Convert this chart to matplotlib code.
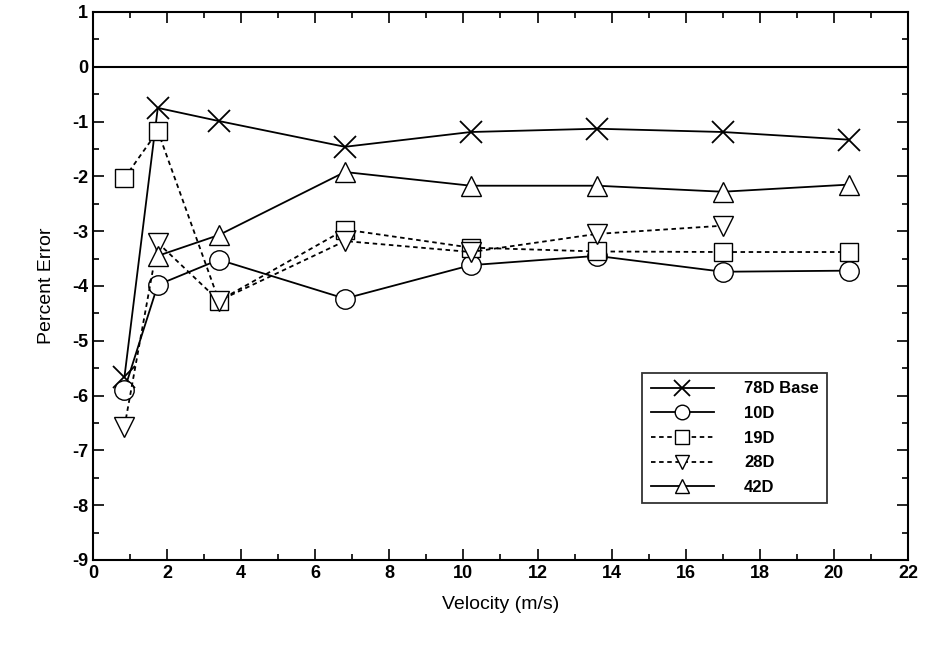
import numpy as np
import matplotlib.pyplot as plt
from matplotlib.ticker import MultipleLocator

plt.rcParams['font.family'] = ['Liberation Sans', 'DejaVu Sans']
plt.rcParams['axes.unicode_minus'] = False

# velocities (m/s)
vel = [0.85, 1.75, 3.4, 6.8, 10.2, 13.6, 17.0, 20.4]
err_78d = [-5.66, -0.75, -0.99, -1.46, -1.19, -1.13, -1.19, -1.33]
err_10d = [-5.89, -3.98, -3.52, -4.23, -3.62, -3.45, -3.74, -3.72]
err_19d = [-2.03, -1.17, -4.27, -2.97, -3.30, -3.37, -3.38, -3.38]
vel_28d = [0.85, 1.75, 3.4, 6.8, 10.2, 13.6, 17.0]
err_28d = [-6.57, -3.21, -4.27, -3.18, -3.38, -3.05, -2.90]
vel_42d = [1.75, 3.4, 6.8, 10.2, 13.6, 17.0, 20.4]
err_42d = [-3.45, -3.07, -1.92, -2.17, -2.17, -2.28, -2.15]

fig = plt.figure(figsize=(9.25, 6.45), dpi=100)
ax = fig.add_axes([0.1005, 0.1318, 0.8811, 0.8496])

ax.axhline(0, color='black', lw=1.5)

ms = 14
dash = (0, (2.5, 2))
ax.plot(vel, err_78d, '-', color='black', lw=1.3, marker='x', ms=ms + 2, mew=1.3,
        label='78D Base')
ax.plot(vel, err_10d, '-', color='black', lw=1.3, marker='o', ms=ms, mfc='white', mew=1.0,
        label='10D')
ax.plot(vel, err_19d, linestyle=dash, color='black', lw=1.3, marker='s', ms=ms - 1, mfc='white',
        mew=1.0, label='19D')
ax.plot(vel_28d, err_28d, linestyle=dash, color='black', lw=1.3, marker='v', ms=ms, mfc='white',
        mew=1.0, label='28D')
ax.plot(vel_42d, err_42d, '-', color='black', lw=1.3, marker='^', ms=ms, mfc='white', mew=1.0,
        label='42D')

ax.set_xlim(0, 22)
ax.set_ylim(-9, 1)
ax.xaxis.set_major_locator(MultipleLocator(2))
ax.xaxis.set_minor_locator(MultipleLocator(1))
ax.yaxis.set_major_locator(MultipleLocator(1))
ax.yaxis.set_minor_locator(MultipleLocator(0.5))
ax.tick_params(which='both', direction='in', top=True, right=True, width=1.2, labelsize=13)
ax.tick_params(which='major', length=8)
ax.tick_params(which='minor', length=4)
for t in ax.get_xticklabels() + ax.get_yticklabels():
    t.set_fontweight('bold')
for s in ax.spines.values():
    s.set_linewidth(1.5)

ax.set_xlabel('Velocity (m/s)', fontsize=14, labelpad=10)
ax.set_ylabel('Percent Error', fontsize=14, labelpad=12)

leg = ax.legend(loc='upper left', bbox_to_anchor=(0.674, 0.341), fontsize=12,
                frameon=True, fancybox=False, edgecolor='black', handlelength=3.8,
                markerscale=0.75, borderpad=0.5, labelspacing=0.58, handletextpad=1.8,
                borderaxespad=0)
leg.get_frame().set_linewidth(1.3)
for t in leg.get_texts():
    t.set_fontweight('bold')

fig.savefig('out.png', dpi=100)
